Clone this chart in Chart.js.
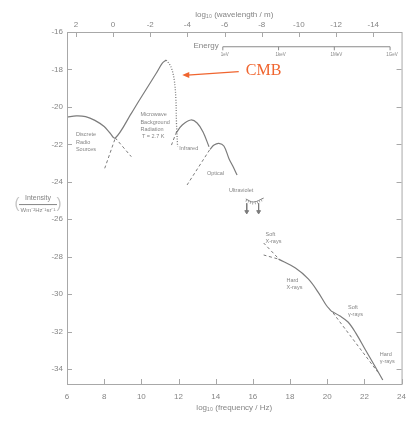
<!DOCTYPE html>
<html>
<head>
<meta charset="utf-8">
<script src="https://cdn.jsdelivr.net/npm/chart.js@4.4.0/dist/chart.umd.min.js"></script>
<style>
  html, body { margin: 0; padding: 0; background: #fff; }
</style>
</head>
<body>
<canvas id="c" width="414" height="421"></canvas>
<script>
// log10(frequency / Hz) against log10(intensity)
const radioCmbNu = [6.0, 6.5, 7.0, 7.5, 8.0, 8.3, 8.6, 9.47, 9.9, 10.81, 11.13, 11.34]
const radioCmbI  = [-20.55, -20.48, -20.52, -20.72, -21.05, -21.38, -21.66, -20.33, -19.63, -18.19, -17.66, -17.50]

const cmbWienNu = [11.34, 11.59, 11.77, 11.86, 11.89, 11.95]
const cmbWienI  = [-17.50, -17.85, -18.56, -19.63, -20.86, -22.13]

const radioTailNu = [8.6, 9.46]
const radioTailI  = [-21.66, -22.66]
const cmbTailNu   = [8.03, 8.6]
const cmbTailI    = [-23.28, -21.66]

const irNu = [11.86, 12.2, 12.66, 13.0, 13.32, 13.64]
const irI  = [-21.41, -20.97, -20.70, -20.86, -21.34, -22.13]
const irTailNu = [11.62, 11.86]
const irTailI  = [-22.04, -21.41]

const optNu = [13.69, 13.91, 14.17, 14.44, 14.71, 14.92, 15.15]
const optI  = [-22.27, -22.04, -21.95, -22.09, -22.75, -23.16, -23.64]
const optTailNu = [12.46, 13.69]
const optTailI  = [-24.17, -22.27]

const uvNu = [15.62, 16.04, 16.58]
const uvI  = [-24.92, -25.08, -24.87]
const uvArrowNu = [15.67, 16.31]
const uvArrowTop = -25.15
const uvArrowEnd = -25.6

const softXUpperNu = [16.58, 17.38]
const softXUpperI  = [-27.27, -28.10]
const softXLowerNu = [16.58, 17.38]
const softXLowerI  = [-27.91, -28.13]

const hardXNu = [17.38, 18.29, 18.98, 19.51, 19.94, 20.21]
const hardXI  = [-28.13, -28.61, -29.19, -29.89, -30.58, -30.90]

const softGNu = [20.21, 20.69, 21.12, 21.54, 22.03, 22.56, 22.99]
const softGI  = [-30.90, -31.17, -31.49, -32.08, -32.93, -33.84, -34.59]
const gammaTailNu = [20.32, 22.72]
const gammaTailI  = [-31.01, -34.16]

// axes
const nuTicks = [6, 8, 10, 12, 14, 16, 18, 20, 22, 24]
const lambdaTicks = [2, 0, -2, -4, -6, -8, -10, -12, -14]
const intensityTicks = [-34, -32, -30, -28, -26, -24, -22, -20, -18, -16]
const LOG_C = 8.477   // log10(c / m s^-1)

// energy bar: 1 eV .. 1 GeV in log10(frequency)
const energyLabels = ['1eV', '1keV', '1MeV', '1GeV']
const energyNu = [14.383, 17.383, 20.383, 23.383]
const energyLevel = -16.79

const curveColor = '#7c7c7c'
const axisColor  = '#a8a8a8'
const textColor  = '#858585'
const cmbColor   = '#f0652f'
const font = { family: 'Liberation Sans', size: 8 }

const pts = (xs, ys) => xs.map((x, i) => ({ x, y: ys[i] }))

const solid  = (xs, ys) => ({ data: pts(xs, ys), borderColor: curveColor, borderWidth: 1.2, tension: 0.35 })
const dashed = (xs, ys) => ({ data: pts(xs, ys), borderColor: curveColor, borderWidth: 1, borderDash: [3, 2.5], tension: 0.3 })
const dotted = (xs, ys) => ({ data: pts(xs, ys), borderColor: curveColor, borderWidth: 1.3, borderDash: [1, 1.6], tension: 0.35 })

const datasets = [
  solid(radioCmbNu, radioCmbI),
  dotted(cmbWienNu, cmbWienI),
  dashed(radioTailNu, radioTailI),
  dashed(cmbTailNu, cmbTailI),
  solid(irNu, irI),
  dashed(irTailNu, irTailI),
  solid(optNu, optI),
  dashed(optTailNu, optTailI),
  { data: pts(uvNu, uvI), borderColor: curveColor, borderWidth: 1, tension: 0.4 },
  { data: pts(uvNu, uvI.map(v => v - 0.08)), borderColor: '#9a9a9a', borderWidth: 2, borderDash: [0.8, 1.6], tension: 0.4 },
  ...uvArrowNu.map(n => ({
    data: [{ x: n, y: uvArrowTop }, { x: n, y: uvArrowEnd }],
    borderColor: curveColor, borderWidth: 1,
    pointRadius: [0, 2.2], pointStyle: 'triangle', rotation: 180,
    pointBackgroundColor: curveColor, pointBorderColor: curveColor
  })),
  dashed(softXUpperNu, softXUpperI),
  dashed(softXLowerNu, softXLowerI),
  solid(hardXNu, hardXI),
  solid(softGNu, softGI),
  dashed(gammaTailNu, gammaTailI),
  { data: pts([energyNu[0], energyNu[3]], [energyLevel, energyLevel]), borderColor: '#8a8a8a', borderWidth: 1.1 }
]
datasets.forEach(d => { d.pointRadius = d.pointRadius ?? 0; d.fill = false })

const labelAnchors = [
  { x: 6.48,  y: -21.50, gap: 7.5, lines: ['Discrete', 'Radio', 'Sources'] },
  { x: 9.95,  y: -20.43, gap: 7.2, lines: ['Microwave', 'Background', 'Radiation', ' T = 2.7 K'] },
  { x: 12.04, y: -22.20, gap: 7,   lines: ['Infrared'] },
  { x: 13.53, y: -23.53, gap: 7,   lines: ['Optical'] },
  { x: 14.71, y: -24.49, gap: 7,   lines: ['Ultraviolet'] },
  { x: 16.68, y: -26.79, gap: 7,   lines: ['Soft', 'X-rays'] },
  { x: 17.81, y: -29.25, gap: 7,   lines: ['Hard', 'X-rays'] },
  { x: 21.12, y: -30.69, gap: 7,   lines: ['Soft', 'γ-rays'] },
  { x: 22.83, y: -33.20, gap: 7,   lines: ['Hard', 'γ-rays'] }
]

const decor = {
  id: 'decor',
  afterDraw(chart) {
    const { ctx, chartArea: a, scales: { x, x2, y } } = chart
    ctx.save()

    // frame and inward ticks
    ctx.strokeStyle = axisColor
    ctx.lineWidth = 1
    ctx.strokeRect(a.left + 0.5, a.top + 0.5, a.right - a.left, a.bottom - a.top)
    ctx.beginPath()
    x.ticks.forEach(t => {
      const p = Math.round(x.getPixelForValue(t.value)) + 0.5
      ctx.moveTo(p, a.bottom); ctx.lineTo(p, a.bottom - 5)
    })
    x2.ticks.forEach(t => {
      const p = Math.round(x2.getPixelForValue(t.value)) + 0.5
      ctx.moveTo(p, a.top); ctx.lineTo(p, a.top + 5)
    })
    y.ticks.forEach(t => {
      const p = Math.round(y.getPixelForValue(t.value)) + 0.5
      ctx.moveTo(a.left, p); ctx.lineTo(a.left + 5, p)
      ctx.moveTo(a.right, p); ctx.lineTo(a.right - 5, p)
    })
    ctx.stroke()

    // energy bar ticks and labels
    const ey = y.getPixelForValue(energyLevel)
    ctx.strokeStyle = '#8a8a8a'
    ctx.beginPath()
    energyNu.forEach(n => {
      const p = x.getPixelForValue(n)
      ctx.moveTo(p, ey); ctx.lineTo(p, ey + 3.5)
    })
    ctx.stroke()
    ctx.fillStyle = textColor
    ctx.textBaseline = 'middle'
    ctx.textAlign = 'center'
    ctx.font = '4.5px "Liberation Sans"'
    energyLabels.forEach((l, i) => ctx.fillText(l, x.getPixelForValue(energyNu[i]) + 2, ey + 8))
    ctx.textAlign = 'right'
    ctx.font = '8px "Liberation Sans"'
    ctx.fillText('Energy', x.getPixelForValue(energyNu[0]) - 4, ey - 1)

    // region labels
    ctx.textAlign = 'left'
    ctx.font = '5.5px "Liberation Sans"'
    labelAnchors.forEach(l => {
      const px = x.getPixelForValue(l.x), py = y.getPixelForValue(l.y)
      l.lines.forEach((s, i) => ctx.fillText(s, px, py + i * l.gap))
    })

    // y axis title as a fraction
    const cx = a.left - 29, cy = y.getPixelForValue(-25.19)
    ctx.textAlign = 'center'
    ctx.strokeStyle = textColor
    ctx.font = '7px "Liberation Sans"'
    ctx.fillText('Intensity', cx, cy - 6)
    ctx.font = '6px "Liberation Sans"'
    ctx.fillText('Wm⁻²Hz⁻¹sr⁻¹', cx, cy + 6)
    ctx.beginPath()
    ctx.moveTo(cx - 19, cy + 0.5); ctx.lineTo(cx + 19, cy + 0.5)
    ctx.stroke()
    ctx.font = '15px "Liberation Sans"'
    ctx.fillStyle = '#c4c4c4'
    ctx.fillText('(', cx - 21, cy)
    ctx.fillText(')', cx + 21, cy)

    // CMB annotation
    const ax0 = x.getPixelForValue(15.24), ay0 = y.getPixelForValue(-18.12)
    const ax1 = x.getPixelForValue(12.2),  ay1 = y.getPixelForValue(-18.3)
    ctx.strokeStyle = cmbColor
    ctx.fillStyle = cmbColor
    ctx.lineWidth = 1.2
    ctx.beginPath()
    ctx.moveTo(ax0, ay0); ctx.lineTo(ax1 + 5, ay1)
    ctx.stroke()
    ctx.beginPath()
    ctx.moveTo(ax1, ay1); ctx.lineTo(ax1 + 7, ay1 - 3); ctx.lineTo(ax1 + 7, ay1 + 3); ctx.closePath()
    ctx.fill()
    ctx.font = '16px "Liberation Serif"'
    ctx.textAlign = 'left'
    ctx.fillText('CMB', ax0 + 7, ay0 - 1)

    ctx.restore()
  }
}

new Chart(document.getElementById('c'), {
  type: 'line',
  data: { datasets },
  plugins: [decor],
  options: {
    responsive: false,
    animation: false,
    layout: { padding: { right: 9 } },
    plugins: { legend: { display: false }, tooltip: { enabled: false } },
    scales: {
      x: {
        type: 'linear', position: 'bottom', min: 6, max: 24,
        afterBuildTicks: s => { s.ticks = nuTicks.map(v => ({ value: v })) },
        afterFit: s => { s.height = 37 },
        grid: { display: false, drawTicks: false },
        border: { display: false },
        ticks: { color: textColor, font, padding: 8, maxRotation: 0 },
        title: { display: true, text: 'log₁₀ (frequency / Hz)', color: textColor, font, padding: { top: 0, bottom: 8 } }
      },
      x2: {
        type: 'linear', position: 'top', min: LOG_C - 24, max: LOG_C - 6, reverse: true,
        afterBuildTicks: s => { s.ticks = lambdaTicks.map(v => ({ value: v })) },
        afterFit: s => { s.height = 32 },
        grid: { display: false, drawTicks: false },
        border: { display: false },
        ticks: { color: textColor, font, padding: 2, maxRotation: 0 },
        title: { display: true, text: 'log₁₀ (wavelength / m)', color: textColor, font, padding: { top: 10, bottom: 0 } }
      },
      y: {
        type: 'linear', min: -34.8, max: -16,
        afterBuildTicks: s => { s.ticks = intensityTicks.map(v => ({ value: v })) },
        afterFit: s => { s.width = 67 },
        grid: { display: false, drawTicks: false },
        border: { display: false },
        ticks: { color: textColor, font, padding: 4 }
      }
    }
  }
})
</script>
</body>
</html>
